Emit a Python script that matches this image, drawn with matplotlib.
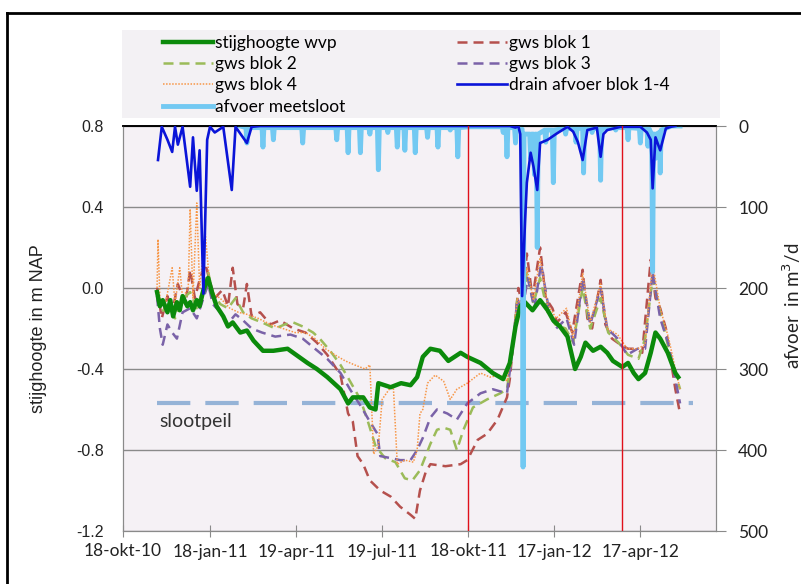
import pandas as pd
import matplotlib
matplotlib.use("Agg")
import matplotlib.pyplot as plt
from matplotlib.lines import Line2D
from matplotlib.patches import Rectangle

START = pd.Timestamp("2010-10-18")
N_DAYS = 627

# dagen sinds 18-okt-2010 / stijghoogte in m NAP
wvp_dag = [36, 39, 42, 47, 50, 53, 57, 60, 63, 68, 71, 74, 78, 81, 85, 90, 94, 99, 106, 111,
           116, 124, 131, 138, 148, 159, 174, 180, 195, 205, 216, 230, 238, 243, 254, 261, 267, 270, 283, 294,
           304, 311, 317, 325, 335, 344, 357, 364, 378, 391, 402, 409, 415, 420, 425, 433, 441, 449, 455, 462,
           470, 478, 484, 489, 497, 505, 512, 518, 528, 534, 540, 545, 552, 558, 563, 568, 576, 584, 587]
wvp_m = [-0.02, -0.09, -0.06, -0.12, -0.06, -0.14, -0.07, -0.11, -0.04, -0.09, -0.07, -0.11, -0.06, -0.09, -0.01, 0.05, -0.02, -0.09, -0.14, -0.19,
         -0.17, -0.22, -0.21, -0.26, -0.31, -0.31, -0.30, -0.32, -0.37, -0.40, -0.44, -0.50, -0.57, -0.54, -0.54, -0.59, -0.60, -0.47, -0.49, -0.47,
         -0.48, -0.44, -0.34, -0.30, -0.31, -0.36, -0.32, -0.34, -0.37, -0.42, -0.45, -0.37, -0.19, -0.09, -0.07, -0.11, -0.06, -0.11, -0.16, -0.19,
         -0.24, -0.40, -0.34, -0.27, -0.31, -0.29, -0.32, -0.36, -0.39, -0.37, -0.42, -0.45, -0.42, -0.32, -0.22, -0.25, -0.32, -0.42, -0.44]

blok1_dag = [36, 41, 47, 52, 58, 66, 71, 76, 81, 87, 92, 97, 105, 111, 116, 121, 127, 131, 136, 145,
             156, 166, 180, 193, 205, 216, 230, 238, 243, 248, 254, 261, 272, 283, 293, 304, 309, 314, 320, 325,
             341, 357, 364, 375, 385, 396, 406, 409, 414, 418, 422, 427, 433, 441, 447, 454, 459, 468, 475, 486,
             491, 496, 505, 510, 517, 526, 534, 542, 549, 558, 563, 568, 574, 579, 584, 589]
blok1_m = [0.00, -0.15, -0.04, -0.12, 0.02, -0.08, 0.09, -0.05, 0.04, 0.12, 0.03, -0.05, -0.01, -0.09, 0.10, -0.08, -0.10, 0.02, -0.14, -0.12,
           -0.18, -0.16, -0.20, -0.22, -0.27, -0.33, -0.43, -0.62, -0.66, -0.83, -0.87, -0.95, -1.00, -1.03, -1.08, -1.12, -1.14, -1.00, -0.91, -0.87,
           -0.88, -0.87, -0.85, -0.75, -0.72, -0.65, -0.54, -0.45, -0.20, 0.00, -0.08, 0.17, -0.05, 0.20, -0.05, -0.10, -0.17, -0.12, -0.22, 0.09,
           -0.15, -0.20, 0.04, -0.18, -0.25, -0.28, -0.30, -0.30, -0.32, 0.14, -0.05, -0.10, -0.20, -0.35, -0.50, -0.62]

blok2_dag = [36, 41, 48, 55, 62, 71, 78, 85, 90, 95, 103, 111, 119, 127, 136, 147, 161, 171, 180, 190,
             201, 208, 219, 230, 240, 251, 259, 267, 277, 288, 298, 306, 314, 325, 332, 339, 346, 353, 360, 370,
             385, 399, 406, 412, 417, 422, 427, 434, 441, 449, 457, 468, 476, 486, 494, 505, 513, 524, 534, 545,
             552, 560, 568, 577, 584, 589]
blok2_m = [-0.05, -0.12, -0.08, -0.15, -0.06, -0.02, -0.10, 0.00, 0.08, -0.03, -0.08, -0.10, -0.05, -0.12, -0.15, -0.17, -0.20, -0.18, -0.17, -0.19,
           -0.22, -0.25, -0.31, -0.38, -0.46, -0.55, -0.66, -0.78, -0.84, -0.86, -0.94, -0.95, -0.90, -0.77, -0.70, -0.69, -0.70, -0.80, -0.70, -0.59,
           -0.55, -0.52, -0.50, -0.30, -0.05, -0.10, 0.08, -0.08, 0.05, -0.12, -0.18, -0.20, -0.27, 0.00, -0.20, -0.05, -0.22, -0.27, -0.33, -0.35,
           -0.25, 0.05, -0.12, -0.30, -0.42, -0.50]

blok3_dag = [36, 39, 42, 47, 52, 57, 63, 71, 78, 85, 90, 95, 103, 110, 119, 127, 136, 147, 161, 177,
             190, 203, 216, 230, 240, 251, 261, 269, 272, 283, 293, 304, 311, 317, 325, 332, 343, 353, 364, 378,
             391, 406, 412, 417, 422, 428, 435, 442, 450, 458, 469, 477, 486, 494, 505, 512, 523, 533, 544, 552,
             560, 568, 577, 584, 589]
blok3_m = [-0.04, -0.20, -0.28, -0.18, -0.22, -0.25, -0.12, -0.10, -0.15, -0.05, 0.02, -0.08, -0.12, -0.18, -0.13, -0.16, -0.20, -0.22, -0.24, -0.23,
           -0.25, -0.30, -0.35, -0.42, -0.50, -0.58, -0.66, -0.72, -0.83, -0.84, -0.85, -0.85, -0.80, -0.74, -0.64, -0.60, -0.62, -0.65, -0.57, -0.52,
           -0.50, -0.52, -0.30, -0.05, -0.12, 0.05, -0.10, 0.12, -0.10, -0.20, -0.15, -0.28, 0.05, -0.18, 0.00, -0.20, -0.25, -0.33, -0.30, -0.30,
           0.08, -0.15, -0.28, -0.45, -0.57]

blok4_dag = [36, 37, 39, 44, 50, 52, 55, 60, 63, 69, 71, 74, 78, 81, 87, 92, 97, 105, 113, 122,
             131, 143, 156, 169, 182, 193, 203, 214, 224, 235, 245, 256, 261, 265, 270, 274, 283, 286, 290, 298,
             307, 311, 314, 317, 322, 330, 339, 346, 353, 364, 378, 388, 399, 406, 412, 417, 422, 427, 434, 441,
             449, 458, 469, 476, 486, 494, 505, 512, 523, 533, 544, 552, 560, 568, 577, 584, 589]
blok4_m = [0.00, 0.24, -0.05, -0.10, 0.05, 0.10, -0.08, 0.10, -0.05, 0.00, 0.39, -0.05, 0.42, 0.00, 0.27, 0.00, -0.03, -0.06, -0.10, -0.12,
           -0.13, -0.15, -0.18, -0.20, -0.22, -0.22, -0.25, -0.30, -0.33, -0.36, -0.38, -0.40, -0.38, -0.82, -0.78, -0.55, -0.49, -0.50, -0.87, -0.85,
           -0.86, -0.80, -0.62, -0.60, -0.47, -0.43, -0.46, -0.55, -0.50, -0.47, -0.42, -0.44, -0.43, -0.46, -0.28, -0.05, -0.10, 0.10, -0.06, 0.15,
           -0.08, -0.15, -0.10, -0.25, 0.07, -0.17, 0.02, -0.20, -0.23, -0.30, -0.30, -0.28, 0.12, -0.10, -0.25, -0.40, -0.50]

# afvoer in m3/d (rechter as)
drain_dag = [37, 41, 47, 52, 55, 58, 63, 71, 74, 78, 81, 85, 89, 92, 97, 106, 115, 119, 131, 136,
             145, 409, 415, 418, 420, 422, 425, 427, 431, 434, 438, 441, 449, 459, 470, 476, 481, 486, 491, 501,
             505, 508, 512, 526, 547, 554, 558, 560, 563, 568, 574, 579, 584]
drain_q = [42, 1, 17, 32, 1, 23, 1, 75, 14, 80, 30, 207, 17, 1, 8, 1, 79, 1, 21, 1,
           0, 0, 2, 0, 10, 210, 120, 70, 33, 50, 79, 21, 17, 9, 1, 7, 20, 42, 5, 2,
           38, 10, 5, 1, 1, 8, 17, 77, 14, 30, 3, 1, 0]

sloot_dag = [124, 130, 131, 132, 147, 148, 149, 158, 159, 160, 189, 190, 191, 225, 226, 227, 237, 238, 239,
             250, 251, 252, 260, 261, 262, 269, 270, 271, 279, 280, 281, 289, 290, 291, 297, 298, 299,
             308, 309, 310, 321, 322, 323, 332, 333, 334, 345, 346, 347, 353, 354, 355, 366,
             401, 402, 403, 405, 406, 407, 414, 415, 416, 422, 423, 424, 430, 431, 432, 434, 435, 436,
             437, 438, 439, 446, 447, 448, 454, 455, 456, 467, 468, 469, 478, 479, 480, 486, 487, 488,
             495, 496, 497, 504, 505, 506, 520, 521, 522, 533, 534, 535, 546, 547, 548, 554, 555, 556,
             559, 560, 561, 562, 563, 564, 567, 568, 569, 580, 589]
sloot_q = [0, 2, 21, 2, 2, 26, 2, 2, 17, 2, 2, 21, 2, 2, 17, 2, 2, 33, 2,
           2, 33, 2, 2, 10, 2, 2, 54, 2, 2, 8, 2, 2, 26, 2, 2, 30, 2,
           2, 33, 2, 2, 14, 2, 2, 26, 2, 2, 5, 2, 2, 38, 2, 1,
           1, 8, 2, 2, 38, 2, 2, 21, 2, 4, 421, 10, 10, 40, 10, 10, 60, 10,
           10, 150, 10, 5, 20, 5, 5, 70, 5, 3, 10, 3, 3, 20, 3, 3, 58, 3,
           3, 8, 3, 3, 67, 3, 2, 5, 2, 2, 17, 2, 3, 21, 3, 3, 25, 3,
           10, 180, 10, 10, 40, 10, 8, 58, 5, 0, 0]

slootpeil_m = -0.57
slootpeil_dag = [36, 603]
rode_lijnen = ["2011-10-18", "2012-03-29"]

tick_dates = ["2010-10-18", "2011-01-18", "2011-04-19", "2011-07-19", "2011-10-18", "2012-01-17", "2012-04-17"]
tick_labels = ["18-okt-10", "18-jan-11", "19-apr-11", "19-jul-11", "18-okt-11", "17-jan-12", "17-apr-12"]


def to_dates(days):
    return START + pd.to_timedelta(days, unit="D")


CAL = ["Lato", "DejaVu Sans"]
ARIAL = ["Liberation Sans", "DejaVu Sans"]
BG = "#f5f1f5"

fig = plt.figure(figsize=(8.01, 5.84), dpi=100)
fig.patch.set_facecolor("white")
ax = fig.add_axes([123 / 801, 1 - 531 / 584, 593 / 801, 405 / 584])
ax.set_facecolor(BG)
ax2 = ax.twinx()

dash = (0, (4, 2.4))
h_wvp, = ax.plot(to_dates(wvp_dag), wvp_m, color="#0b8a0b", lw=3.2, zorder=5, label="stijghoogte wvp")
h_b1, = ax.plot(to_dates(blok1_dag), blok1_m, color="#b5504d", lw=1.8, ls=dash, zorder=4, label="gws blok 1")
h_b2, = ax.plot(to_dates(blok2_dag), blok2_m, color="#9bbb59", lw=1.8, ls=dash, zorder=4, label="gws blok 2")
h_b3, = ax.plot(to_dates(blok3_dag), blok3_m, color="#7a62a8", lw=1.8, ls=dash, zorder=4, label="gws blok 3")
h_b4, = ax.plot(to_dates(blok4_dag), blok4_m, color="#f79646", lw=1.1, ls=(0, (1, 1)), zorder=4, label="gws blok 4")
ax.plot(to_dates(slootpeil_dag), [slootpeil_m, slootpeil_m], color="#95b3d7", lw=3, ls=(0, (8, 3.6)), zorder=3)
ax.text(to_dates([38])[0], -0.66, "slootpeil", family=CAL, fontsize=14, color="#333333", va="center")

h_sl, = ax2.plot(to_dates(sloot_dag), sloot_q, color="#72c9f2", lw=3.5, zorder=2, label="afvoer meetsloot")
h_dr, = ax2.plot(to_dates(drain_dag), drain_q, color="#0a14d8", lw=1.9, zorder=3, label="drain afvoer blok 1-4")
for d in rode_lijnen:
    ax2.axvline(pd.Timestamp(d), color="#e0101a", lw=1, zorder=4)

ax.set_xlim(START, START + pd.Timedelta(days=N_DAYS))
ax.set_ylim(-1.2, 0.8)
ax.set_yticks([-1.2, -0.8, -0.4, 0.0, 0.4, 0.8])
ax.set_yticklabels(["-1.2", "-0.8", "-0.4", "0.0", "0.4", "0.8"], family=ARIAL, fontsize=11.5, color="#222222")
ax.tick_params(axis="y", length=0, pad=14)
ax.grid(axis="y", color="#8a8a8a", lw=1)
ax.set_axisbelow(True)
ax.set_xticks(pd.to_datetime(tick_dates))
ax.set_xticklabels(tick_labels, family=CAL, fontsize=12.5, color="#222222")
ax.tick_params(axis="x", direction="inout", length=8, color="#8a8a8a", pad=5)

ax2.set_ylim(500, 0)
ax2.set_yticks([0, 100, 200, 300, 400, 500])
ax2.set_yticklabels(["0", "100", "200", "300", "400", "500"], family=CAL, fontsize=12.5, color="#222222")
ax2.tick_params(axis="y", length=7, color="#8a8a8a", pad=9)

for a in (ax, ax2):
    for s in ["left", "right", "bottom"]:
        a.spines[s].set_color("#8a8a8a")
    a.spines["top"].set_color("black")
    a.spines["top"].set_linewidth(1.2)

ax.set_ylabel("stijghoogte in m NAP", family=ARIAL, fontsize=13, color="#222222")
ax.yaxis.set_label_coords(-0.128, 0.5)
ax2.set_ylabel("afvoer  in m$^3$/d", family=CAL, fontsize=13.5, color="#222222", rotation=90)
ax2.yaxis.set_label_coords(1.108, 0.556)

# legenda met grijze achtergrond
fig.add_artist(Rectangle((122 / 801, 1 - 118 / 584), 598 / 801, 88 / 584, transform=fig.transFigure,
                         facecolor="#f3f1f4", edgecolor="none", zorder=0))
handles = [h_wvp, h_b2, h_b4, h_sl, h_b1, h_b3, h_dr]
fig.legend(handles, [h.get_label() for h in handles], loc="upper left", ncol=2,
           bbox_to_anchor=(163 / 801, 1 - 35 / 584), frameon=False, borderpad=0, borderaxespad=0,
           handlelength=2.9, handletextpad=0.12, labelspacing=0.3, columnspacing=6.4,
           prop={"family": CAL, "size": 12.5})

# kader om de figuur
fig.add_artist(Line2D([7 / 801, 1], [1 - 13 / 584] * 2, color="black", lw=2, transform=fig.transFigure))
fig.add_artist(Line2D([7 / 801] * 2, [0, 1 - 13 / 584], color="black", lw=2, transform=fig.transFigure))

fig.savefig("out.png", dpi=100)
